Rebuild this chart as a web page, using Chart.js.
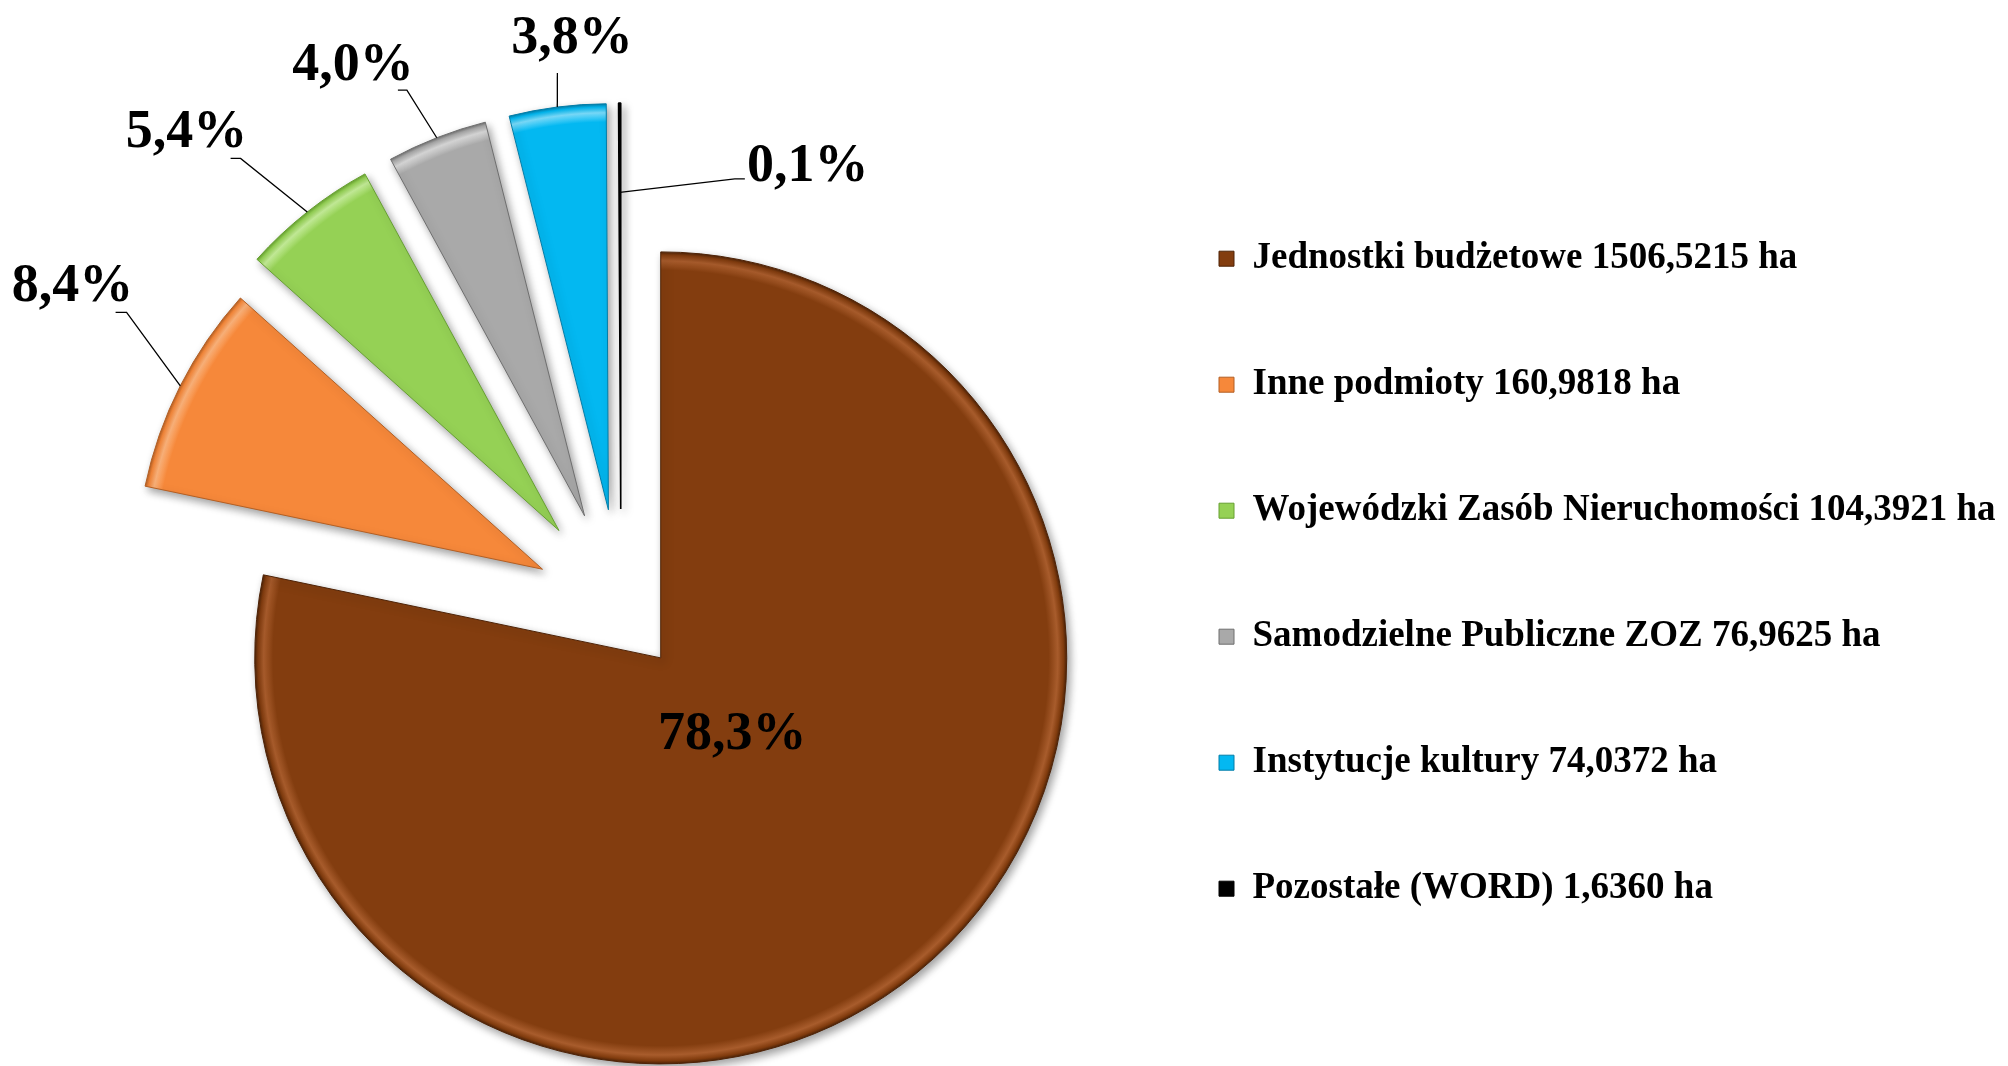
<!DOCTYPE html>
<html lang="pl">
<head>
<meta charset="utf-8">
<title>Struktura powierzchni</title>
<script src="https://cdn.jsdelivr.net/npm/chart.js@4.4.1/dist/chart.umd.min.js"></script>
<style>
  html, body { margin: 0; padding: 0; background: #ffffff; overflow: hidden; }
  #stage { position: relative; width: 2008px; height: 1066px; overflow: hidden; background: #ffffff; }
  #stage canvas { position: absolute; left: 0; top: 0; }
</style>
</head>
<body>
<div id="stage"></div>
<script>
// ---------------- DATA ----------------
const categories = [
  'Jednostki budżetowe',
  'Inne podmioty',
  'Wojewódzki Zasób Nieruchomości',
  'Samodzielne Publiczne ZOZ',
  'Instytucje kultury',
  'Pozostałe (WORD)'
];
const areasHa = [1506.5215, 160.9818, 104.3921, 76.9625, 74.0372, 1.6360];
const areaUnit = 'ha';

// ---------------- STYLE ----------------
const sliceColors = ['#833D0F', '#F6883A', '#95D155', '#A9A9A9', '#03B8F1', '#000000'];
const rimLight    = ['#A85C2C', '#FBB27A', '#C4EC98', '#D8D8D8', '#7ADCFB', '#333333'];
const edgeColors  = ['#4E2307', '#B35F24', '#66A030', '#6E6E6E', '#027DA8', '#000000'];
const sliceBorder = [1, 1, 1, 1, 1, 1.6];
const explodePx   = [63, 88, 100, 100, 100, 100];
const PIE_CENTER  = { x: 621, y: 609 };
const PIE_RADIUS  = 406;

// label placement: angle (deg, clockwise from 12 o'clock) and distance (x radius) from slice centre
const labelAngleDeg = [135.6, 301.4, 317.2, 333.0, 355.6, 28.4];
const labelDist     = [0.252, 1.356, 1.350, 1.257, 1.173, 0.969];
// leader lines: anchor radius factor on slice bisector, elbow and end offsets from label centre
const leaders = [
  null,
  { r: 1.0, ex: 54, ey: 30, hx: 43, hy: 30 },
  { r: 1.0, ex: 54, ey: 30, hx: 44, hy: 30 },
  { r: 1.0, ex: 54, ey: 29, hx: 45, hy: 29 },
  { r: 1.0, ex: -14.5, ey: 38, hx: -14.5, hy: 38 },
  { r: 0.78, ex: -73, ey: 16, hx: -63, hy: 16 }
];

const W = 2008, H = 1066;
const FONT_FAMILY = "'Liberation Serif', 'Times New Roman', Times, serif";
const LABEL_FONT = 54;
const LEGEND_FONT = 37;
const LEGEND_BOX = 15;
const LEGEND_BOX_X = 1219;
const LEGEND_FIRST_Y = 258.7;
const LEGEND_PITCH = 126;

// ---------------- HELPERS ----------------
const total = areasHa.reduce((a, b) => a + b, 0);
const fmtHa = v => v.toFixed(4).replace('.', ',') + ' ' + areaUnit;
const fmtPct = v => (v / total * 100).toFixed(1).replace('.', ',') + '%';

function midAngle(i) {
  let before = 0;
  for (let k = 0; k < i; k++) before += areasHa[k];
  return -Math.PI / 2 + 2 * Math.PI * (before + areasHa[i] / 2) / total;
}
function sliceCenter(i) {
  const a = midAngle(i);
  return { x: PIE_CENTER.x + explodePx[i] * Math.cos(a), y: PIE_CENTER.y + explodePx[i] * Math.sin(a) };
}

function bevelFill(i) {
  return (ctx) => {
    if (ctx.dataIndex !== i) return 'rgba(0,0,0,0)';
    const ca = ctx.chart.chartArea;
    if (!ca || i === areasHa.length - 1) return sliceColors[i];
    const cx = (ca.left + ca.right) / 2, cy = (ca.top + ca.bottom) / 2;
    const g = ctx.chart.ctx.createRadialGradient(cx, cy, 0, cx, cy, PIE_RADIUS);
    g.addColorStop(0, sliceColors[i]);
    g.addColorStop(0.955, sliceColors[i]);
    g.addColorStop(0.978, rimLight[i]);
    g.addColorStop(0.992, sliceColors[i]);
    g.addColorStop(1, edgeColors[i]);
    return g;
  };
}

function makeDataset(i) {
  return {
    data: areasHa,
    backgroundColor: bevelFill(i),
    borderColor: ctx => ctx.dataIndex === i ? edgeColors[i] : 'rgba(0,0,0,0)',
    borderWidth: ctx => ctx.dataIndex === i ? sliceBorder[i] : 0,
    radius: PIE_RADIUS,
    hoverOffset: 0,
    clip: false
  };
}

const shadowPlugin = {
  id: 'softShadow',
  beforeDatasetsDraw(chart) {
    const c = chart.ctx;
    c.save();
    c.shadowColor = 'rgba(0,0,0,0.38)';
    c.shadowBlur = 9;
    c.shadowOffsetX = 3;
    c.shadowOffsetY = 4;
  },
  afterDatasetsDraw(chart) { chart.ctx.restore(); }
};

const stage = document.getElementById('stage');
function newCanvas(w, h) {
  const c = document.createElement('canvas');
  c.width = w; c.height = h;
  c.style.width = w + 'px'; c.style.height = h + 'px';
  stage.appendChild(c);
  return c;
}

// ---------------- SLICE CHARTS (one exploded slice each) ----------------
const sliceCharts = [];
for (let i = areasHa.length - 1; i >= 1; i--) {
  const c = sliceCenter(i);
  const pad = {
    left:   c.x <= W / 2 ? 0 : 2 * c.x - W,
    right:  c.x <= W / 2 ? W - 2 * c.x : 0,
    top:    c.y <= H / 2 ? 0 : 2 * c.y - H,
    bottom: c.y <= H / 2 ? H - 2 * c.y : 0
  };
  sliceCharts[i] = new Chart(newCanvas(W, H), {
    type: 'pie',
    data: { labels: categories, datasets: [makeDataset(i)] },
    options: {
      responsive: false, animation: false, devicePixelRatio: 1, events: [],
      layout: { padding: pad },
      plugins: { legend: { display: false }, tooltip: { enabled: false } }
    },
    plugins: [shadowPlugin]
  });
}

// ---------------- MAIN CHART (largest slice, legend, labels) ----------------
const labelPlugin = {
  id: 'pctLabels',
  afterDraw(chart) {
    const ctx = chart.ctx;
    ctx.save();
    ctx.font = `bold ${LABEL_FONT}px ${FONT_FAMILY}`;
    ctx.fillStyle = '#000';
    ctx.strokeStyle = '#000';
    ctx.lineWidth = 1.3;
    ctx.textAlign = 'center';
    ctx.textBaseline = 'alphabetic';
    for (let i = 0; i < areasHa.length; i++) {
      const owner = i === 0 ? chart : sliceCharts[i];
      if (!owner) continue;
      const el = owner.getDatasetMeta(0).data[i];
      const R = el.outerRadius;
      const la = (labelAngleDeg[i] - 90) * Math.PI / 180;
      const lx = el.x + labelDist[i] * R * Math.cos(la);
      const ly = el.y + labelDist[i] * R * Math.sin(la);
      const ld = leaders[i];
      if (ld) {
        const ma = (el.startAngle + el.endAngle) / 2;
        const ax = el.x + ld.r * R * Math.cos(ma);
        const ay = el.y + ld.r * R * Math.sin(ma);
        ctx.beginPath();
        ctx.moveTo(ax, ay);
        ctx.lineTo(lx + ld.ex, ly + ld.ey);
        ctx.lineTo(lx + ld.hx, ly + ld.hy);
        ctx.stroke();
      }
      ctx.fillText(fmtPct(areasHa[i]), lx, ly + 0.34 * LABEL_FONT);
    }
    ctx.restore();
  }
};

const brownC = sliceCenter(0);
const legendPad = LEGEND_PITCH - LEGEND_FONT;
const padTopA = LEGEND_FIRST_Y - LEGEND_FONT / 2 - legendPad;
const spanA = 2 * brownC.y - padTopA;
const hA = Math.ceil(spanA);
const padA = { left: 0, right: 0, top: padTopA, bottom: hA - spanA };

const chartA = new Chart(newCanvas(W, hA), {
  type: 'pie',
  data: { labels: categories, datasets: [makeDataset(0)] },
  options: {
    responsive: false, animation: false, devicePixelRatio: 1, events: [],
    layout: { padding: padA },
    plugins: {
      tooltip: { enabled: false },
      legend: {
        position: 'right',
        align: 'start',
        labels: {
          boxWidth: LEGEND_BOX,
          boxHeight: LEGEND_BOX,
          padding: legendPad,
          color: '#000',
          font: { family: FONT_FAMILY, size: LEGEND_FONT, weight: 'bold' },
          generateLabels: () => categories.map((c, i) => ({
            text: c + ' ' + fmtHa(areasHa[i]),
            fillStyle: sliceColors[i],
            strokeStyle: edgeColors[i],
            lineWidth: 1,
            hidden: false,
            index: i,
            datasetIndex: 0
          }))
        }
      }
    }
  },
  plugins: [shadowPlugin, labelPlugin]
});

// place legend column and pie centre precisely
for (let k = 0; k < 4; k++) {
  const hb = chartA.legend.legendHitBoxes[0];
  padA.right += hb.left - LEGEND_BOX_X;
  chartA.update('none');
  const ca = chartA.chartArea;
  padA.left += 2 * (brownC.x - (ca.left + ca.right) / 2);
  chartA.update('none');
}
</script>
</body>
</html>
